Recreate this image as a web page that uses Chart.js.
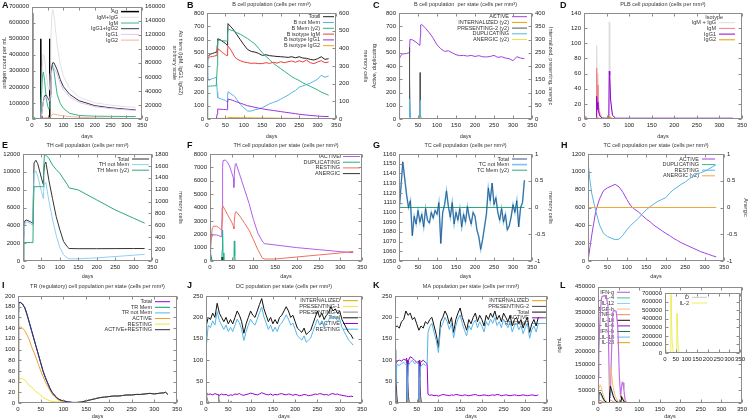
<!DOCTYPE html>
<html>
<head>
<meta charset="utf-8">
<script src="https://cdn.jsdelivr.net/npm/chart.js@4.4.1/dist/chart.umd.min.js"></script>
<style>
  html, body { margin: 0; padding: 0; background: #fff; }
  #wrap { position: relative; width: 750px; height: 420px; overflow: hidden; }
  #wrap canvas { position: absolute; }
  .lt { position: absolute; font: bold 9px "Liberation Sans", Arial, sans-serif; color: #111; }
</style>
</head>
<body>
<div id="wrap"></div>
<script>
// ---------- A: antigen and antibodies
const agDays = [0, 1, 3, 27, 28, 29, 31, 55, 56, 57, 59, 330];
const agCount = [660000, 40000, 0, 0, 500000, 20000, 0, 0, 500000, 20000, 0, 0];
const abDays = [0, 3, 6, 10, 20, 25, 28, 30, 33, 36, 40, 45, 50, 54, 56, 58, 60, 63, 66, 70, 80, 90, 100, 120, 150, 200, 250, 300, 330];
const abIgMG = [0, 4000, 3000, 1000, 300, 500, 3500, 35000, 75000, 92000, 88000, 64000, 48000, 41000, 44000, 65000, 110000, 147000, 156000, 148000, 105000, 78000, 61000, 43000, 31000, 23000, 19800, 17600, 16500];
const abIgM = [0, 4000, 3000, 1000, 300, 500, 3000, 30000, 60000, 67000, 55000, 30000, 18000, 14000, 16000, 30000, 55000, 72000, 76000, 68000, 35000, 22000, 15000, 8000, 5000, 4000, 3800, 3600, 3500];
const abIgG = [0, 0, 0, 0, 0, 0, 500, 5000, 15000, 25000, 33000, 34000, 30000, 27000, 28000, 35000, 55000, 75000, 80000, 80000, 70000, 56000, 46000, 35000, 26000, 19000, 16000, 14000, 13000];
const abIgG1 = [0, 0, 0, 0, 0, 0, 500, 4700, 14200, 23500, 31000, 31800, 28000, 25200, 26100, 32500, 51000, 69000, 73000, 73000, 64000, 51000, 41500, 31500, 23500, 17500, 14800, 13000, 12100];
const abIgG2 = [0, 0, 0, 0, 0, 0, 0, 300, 800, 1500, 2000, 2200, 2000, 1800, 1900, 2500, 4000, 6000, 7000, 7000, 6000, 5000, 4500, 3500, 2500, 1500, 1200, 1000, 900];

// ---------- B: B cell population
const bDays = [0, 2, 5, 10, 15, 20, 25, 27, 28, 29, 35, 40, 45, 50, 54, 55, 56, 57, 60, 65, 70, 75, 80, 90, 100, 110, 120, 130, 140, 150, 160, 170, 180, 190, 200, 210, 220, 230, 240, 250, 260, 270, 280, 290, 300, 310, 320, 330];
const bTotal = [450, 470, 480, 490, 495, 500, 505, 510, 560, 605, 600, 590, 580, 570, 560, 555, 640, 720, 710, 695, 680, 660, 640, 600, 560, 525, 510, 505, 495, 480, 485, 478, 475, 472, 470, 468, 465, 470, 462, 470, 460, 458, 450, 445, 455, 470, 450, 455];
const bNotMem = [460, 300, 290, 300, 305, 310, 315, 315, 200, 160, 155, 150, 145, 140, 130, 128, 180, 205, 200, 190, 180, 170, 150, 110, 85, 60, 60, 70, 75, 85, 100, 115, 125, 135, 150, 165, 180, 200, 215, 240, 250, 260, 270, 285, 300, 330, 315, 325];
const bMem = [0, 185, 186, 186, 187, 188, 188, 188, 300, 445, 445, 444, 443, 442, 441, 441, 480, 511, 508, 503, 500, 495, 490, 480, 468, 455, 440, 425, 400, 375, 355, 335, 315, 300, 285, 270, 255, 240, 228, 218, 205, 195, 185, 175, 165, 152, 143, 135];
const bIgM = [440, 455, 465, 470, 472, 475, 478, 480, 510, 530, 520, 505, 495, 485, 478, 478, 520, 550, 540, 520, 495, 470, 455, 440, 430, 425, 420, 422, 418, 418, 425, 420, 428, 422, 432, 425, 432, 438, 428, 440, 430, 445, 425, 418, 430, 440, 425, 430];
const bIgG1 = [0, 0, 0, 0, 0, 0, 0, 0, 40, 75, 74, 73, 72, 71, 70, 70, 120, 150, 148, 145, 140, 135, 130, 120, 110, 100, 95, 88, 82, 77, 72, 68, 64, 60, 56, 52, 48, 44, 40, 36, 33, 30, 27, 25, 22, 20, 19, 18];
const bIgG2 = [0, 0, 0, 0, 0, 0, 0, 0, 2, 5, 5, 5, 5, 5, 5, 5, 8, 12, 12, 12, 12, 11, 11, 10, 10, 9, 9, 8, 8, 8, 7, 7, 7, 6, 6, 6, 5, 5, 5, 5, 4, 4, 4, 4, 4, 3, 3, 3];

// ---------- C: B cells per state
const cDays = [0, 1, 2, 5, 10, 20, 27, 28, 29, 35, 45, 55, 56, 57, 60, 65, 70, 80, 90, 100, 110, 120, 130, 140, 150, 160, 170, 180, 190, 200, 210, 220, 230, 240, 250, 260, 270, 280, 290, 300, 310, 320, 330];
const cActive = [0, 300, 460, 480, 490, 495, 500, 550, 600, 598, 580, 555, 620, 710, 712, 700, 685, 650, 610, 560, 530, 510, 515, 500, 485, 478, 480, 475, 480, 472, 478, 470, 468, 472, 480, 465, 470, 460, 455, 440, 470, 460, 455];
const cSpikeDays = [0, 0.5, 1, 1.5, 2, 3, 27, 27.5, 28, 29, 30, 55, 55.5, 56, 57, 58, 330];
const cPres2 = [0, 385, 200, 40, 5, 0, 0, 270, 150, 20, 0, 0, 175, 80, 10, 0, 0];
const cDup = [0, 50, 100, 30, 5, 0, 0, 60, 150, 40, 0, 0, 60, 140, 40, 0, 0];
const cIntern = [0, 15, 8, 2, 0, 0, 0, 12, 8, 2, 0, 0, 10, 6, 1, 0, 0];
const cAnerg = [0, 8, 5, 1, 0, 0, 0, 6, 4, 1, 0, 0, 5, 3, 1, 0, 0];

// ---------- D: PLB cells
const dDays = [0, 2, 3, 5, 8, 27, 28, 29, 31, 35, 40, 55, 56, 57, 59, 63, 70, 330];
const dIgMG = [0, 3, 4, 2, 0, 0, 97, 60, 30, 10, 2, 1, 128, 60, 25, 5, 1, 1];
const dIgM = [0, 2, 4, 2, 0, 0, 67, 45, 20, 6, 1, 0, 3, 2, 1, 0, 0, 0];
const dIgG1 = [0, 1, 1, 1, 0, 0, 30, 22, 12, 4, 1, 1, 63, 58, 25, 5, 1, 1];
const dIgG2 = [0, 0, 0, 0, 0, 0, 2, 2, 1, 0, 0, 0, 4, 4, 2, 1, 0, 0];

// ---------- E: TH cells
const eDays = [0, 2, 5, 10, 20, 27, 28, 30, 35, 40, 50, 55, 56, 58, 62, 70, 80, 90, 100, 110, 120, 125, 150, 200, 250, 300, 330];
const eTotal = [0, 2500, 4500, 4600, 4400, 4200, 7000, 11000, 11300, 10900, 9300, 8600, 9600, 10800, 11100, 9100, 7000, 5000, 3500, 2200, 1600, 1400, 1380, 1380, 1390, 1400, 1400];
const eNotMem = [0, 2300, 4300, 4400, 4200, 4000, 6500, 9800, 10100, 9500, 7800, 7000, 7800, 8600, 8800, 6800, 4700, 2900, 1500, 700, 350, 250, 250, 350, 500, 650, 750];
const eMem = [0, 310, 310, 310, 310, 310, 800, 1250, 1250, 1250, 1250, 1250, 1500, 1790, 1780, 1730, 1615, 1540, 1475, 1380, 1290, 1230, 1195, 1028, 860, 720, 637];

// ---------- F: TH cells per state
const fDays = [0, 1, 2, 5, 8, 15, 20, 27, 28, 29, 30, 35, 40, 45, 50, 54, 55, 56, 58, 60, 70, 80, 90, 100, 110, 120, 125, 150, 200, 250, 300, 330];
const fActive = [0, 800, 1500, 1900, 1950, 1950, 1900, 1800, 4000, 7000, 7500, 7550, 7400, 7100, 6600, 6200, 5500, 6500, 7200, 7300, 6300, 5300, 4300, 3100, 2100, 1500, 1300, 1200, 1000, 850, 700, 620];
const fResting = [1500, 900, 1200, 2400, 2600, 2600, 2500, 2300, 3000, 4000, 4100, 3800, 3500, 3200, 2900, 2600, 2400, 3000, 3600, 3700, 3300, 2800, 2300, 1600, 850, 250, 150, 150, 300, 450, 600, 720];
const fDupDays = [0, 1, 2, 3, 5, 27, 28, 29, 30, 32, 55, 56, 57, 58, 60, 330];
const fDup = [0, 200, 500, 300, 0, 0, 800, 2300, 600, 0, 0, 1500, 400, 50, 0, 0];
const fAnergDays = [0, 1, 2, 4, 27, 28, 29, 31, 330];
const fAnerg = [0, 300, 100, 0, 0, 300, 50, 0, 0];

// ---------- G: TC cells
const gDays = [0, 5, 10, 15, 20, 25, 30, 35, 40, 45, 50, 55, 60, 65, 70, 75, 80, 85, 90, 95, 100, 105, 110, 115, 120, 125, 130, 135, 140, 145, 150, 155, 160, 165, 170, 175, 180, 185, 190, 195, 200, 205, 210, 215, 220, 225, 230, 235, 240, 245, 250, 255, 260, 265, 270, 275, 280, 285, 290, 295, 300, 305, 310, 315, 320, 325, 330];
const gTotal = [1100, 1125, 1152, 1135, 1118, 1105, 1112, 1076, 1096, 1088, 1102, 1090, 1098, 1085, 1104, 1092, 1089, 1100, 1094, 1102, 1098, 1110, 1068, 1100, 1108, 1122, 1106, 1095, 1110, 1088, 1100, 1092, 1104, 1085, 1098, 1090, 1106, 1095, 1088, 1100, 1096, 1082, 1075, 1062, 1072, 1085, 1098, 1125, 1112, 1130, 1108, 1115, 1100, 1092, 1104, 1090, 1098, 1082, 1086, 1095, 1108, 1100, 1112, 1085, 1105, 1110, 1133];
const flatDays = [0, 330];
const flatZero = [0, 0];

// ---------- H: TC cells per state
const hDays = [0, 5, 10, 20, 30, 40, 50, 60, 70, 80, 90, 100, 110, 120, 130, 140, 150, 160, 170, 180, 190, 200, 210, 220, 230, 240, 250, 260, 270, 280, 290, 300, 310, 320, 330];
const hActive = [0, 150, 300, 560, 700, 790, 820, 840, 860, 830, 770, 690, 620, 580, 550, 510, 470, 440, 400, 370, 340, 310, 285, 255, 230, 205, 185, 165, 145, 125, 105, 90, 75, 60, 45];
const hResting = [1120, 900, 750, 560, 400, 310, 275, 255, 240, 245, 290, 350, 400, 440, 480, 530, 575, 610, 640, 670, 690, 710, 760, 800, 830, 860, 885, 920, 950, 975, 990, 1005, 1030, 1055, 1080];

// ---------- I: TR cells
const iDays = [0, 1, 2, 3, 5, 10, 15, 20, 25, 30, 35, 40, 45, 50, 55, 60, 65, 70, 75, 80, 85, 90, 95, 100, 110, 120, 130, 140, 150, 160, 170, 180, 190, 200, 210, 220, 230, 240, 250, 260, 270, 280, 290, 300, 310, 320, 325, 330];
const iTotal = [170, 185, 188, 188, 188, 185, 178, 165, 150, 135, 120, 105, 90, 75, 60, 48, 38, 28, 20, 15, 10, 7, 5, 4, 2, 1, 1, 2, 4, 6, 8, 10, 11, 12, 13, 13, 14, 15, 15, 16, 16, 17, 18, 17, 18, 19, 20, 16];
const iActRest = [40, 150, 185, 188, 188, 185, 178, 165, 150, 135, 120, 105, 90, 75, 60, 48, 38, 28, 20, 15, 10, 7, 5, 4, 2, 1, 1, 2, 4, 6, 8, 10, 11, 12, 13, 13, 14, 15, 15, 16, 16, 17, 18, 17, 18, 19, 20, 16];
const iActive = [0, 100, 138, 142, 142, 140, 135, 127, 118, 105, 95, 84, 72, 60, 50, 40, 32, 24, 17, 12, 8, 5, 3, 2, 1, 0, 0, 0, 0, 0, 0, 0, 0, 0, 0, 0, 0, 0, 0, 0, 0, 0, 0, 0, 0, 0, 0, 0];
const iResting = [0, 40, 46, 46, 46, 45, 43, 38, 32, 30, 25, 21, 18, 15, 10, 8, 6, 4, 3, 3, 2, 2, 2, 2, 1, 1, 1, 2, 4, 6, 8, 10, 11, 12, 13, 13, 14, 15, 15, 16, 16, 17, 18, 17, 18, 19, 20, 16];

// ---------- J: DC per state
const jTotal = [178, 200, 195, 210, 200, 233, 210, 200, 190, 200, 185, 195, 185, 200, 215, 205, 190, 163, 185, 200, 215, 205, 200, 215, 230, 244, 220, 205, 190, 200, 185, 195, 185, 200, 205, 215, 225, 215, 200, 205, 190, 175, 170, 165, 175, 160, 165, 170, 185, 200, 215, 200, 210, 195, 205, 210, 225, 215, 220, 210, 215, 195, 185, 175, 165, 160, 150];
const jResting = [125, 182, 176, 192, 182, 214, 192, 182, 172, 182, 167, 177, 167, 182, 196, 187, 172, 146, 167, 182, 196, 187, 182, 196, 211, 224, 201, 187, 172, 182, 167, 177, 167, 182, 187, 196, 206, 196, 182, 187, 172, 157, 152, 147, 157, 142, 147, 152, 167, 182, 196, 182, 192, 177, 187, 192, 206, 196, 201, 192, 196, 177, 167, 157, 147, 142, 135];
const jActive = [22, 20, 21, 19, 22, 20, 18, 21, 19, 20, 17, 19, 18, 21, 20, 22, 19, 18, 20, 21, 23, 22, 20, 19, 21, 24, 22, 20, 19, 21, 18, 20, 19, 21, 22, 20, 19, 21, 20, 18, 20, 19, 17, 18, 20, 19, 17, 18, 19, 21, 20, 22, 21, 19, 20, 18, 21, 22, 20, 21, 19, 18, 17, 16, 15, 16, 15];
const jSpikeDays = [0, 1, 2, 4, 8, 27, 28, 29, 31, 35, 55, 56, 57, 60, 330];
const jPres2 = [0, 25, 15, 5, 0, 0, 20, 10, 3, 0, 0, 5, 3, 0, 0];
const jPres1 = [0, 3, 2, 1, 0, 0, 3, 2, 1, 0, 0, 2, 1, 0, 0];
const jIntern = [0, 4, 2, 1, 0, 0, 3, 1, 0, 0, 0, 2, 1, 0, 0];

// ---------- K: MA per state
const kTotal = [177, 180, 175, 190, 195, 215, 205, 210, 195, 200, 185, 170, 180, 175, 190, 185, 195, 200, 180, 160, 130, 190, 200, 215, 205, 185, 200, 165, 195, 210, 222, 200, 185, 170, 195, 185, 200, 210, 190, 205, 195, 180, 205, 195, 210, 200, 215, 195, 205, 190, 210, 200, 190, 205, 180, 195, 200, 185, 195, 175, 190, 200, 165, 185, 195, 180, 200];
const kStateDays = [0, 1, 2, 4, 5, 10, 15, 20, 25, 27, 28, 29, 31, 35, 40, 45, 50, 55, 56, 57, 59, 65, 70, 74, 76, 80, 85, 90, 95, 100, 105, 110, 115, 120, 125, 130, 135, 140, 145, 150, 155, 160, 165, 170, 175, 180, 185, 190, 195, 200, 205, 210, 215, 220, 225, 230, 235, 240, 245, 250, 255, 260, 265, 270, 275, 280, 285, 290, 295, 300, 305, 310, 315, 320, 325, 330];
const kResting = [120, 5, 40, 85, 90, 88, 92, 95, 90, 92, 5, 50, 88, 95, 100, 92, 95, 90, 5, 50, 85, 92, 88, 90, 165, 178, 186, 165, 146, 118, 175, 186, 200, 190, 172, 186, 152, 180, 196, 206, 186, 170, 157, 181, 171, 186, 194, 176, 190, 180, 166, 190, 181, 196, 186, 200, 181, 190, 176, 196, 186, 176, 190, 166, 181, 186, 171, 181, 162, 176, 186, 151, 171, 180, 166, 186];
const kActive = [0, 100, 95, 95, 98, 100, 98, 102, 100, 105, 10, 60, 100, 108, 105, 100, 95, 97, 10, 60, 95, 100, 95, 92, 20, 18, 19, 17, 18, 16, 18, 20, 19, 18, 17, 19, 18, 20, 19, 18, 17, 19, 18, 17, 18, 19, 20, 18, 17, 18, 19, 18, 17, 18, 19, 18, 20, 19, 17, 18, 19, 18, 17, 18, 19, 18, 17, 18, 19, 18, 17, 18, 19, 18, 17, 19];
const kSpikeDays = [0, 1, 2, 4, 6, 27, 28, 29, 31, 33, 55, 56, 57, 59, 61, 330];
const kPres2 = [0, 125, 80, 20, 0, 0, 100, 60, 15, 0, 0, 100, 60, 15, 0, 0];
const kIntern = [0, 20, 8, 2, 0, 0, 15, 5, 1, 0, 0, 12, 4, 1, 0, 0];

// ---------- L: cytokines
const lDays = [0, 2, 5, 8, 10, 15, 20, 24, 26, 28, 30, 32, 36, 40, 44, 48, 52, 55, 57, 59, 61, 63, 66, 70, 80, 330];
const lIFNg = [100000, 200000, 330000, 400000, 412000, 415000, 410000, 380000, 200000, 40000, 20000, 150000, 350000, 358000, 355000, 300000, 100000, 20000, 60000, 80000, 78000, 50000, 10000, 1000, 0, 0];
const cytDays = [0, 2, 5, 8, 12, 16, 22, 27, 28, 30, 33, 37, 42, 50, 55, 56, 57, 60, 64, 70, 330];
const lTGFb = [20000, 55000, 70000, 60000, 35000, 15000, 2000, 500, 40000, 145000, 110000, 60000, 25000, 3000, 500, 15000, 30000, 20000, 5000, 500, 0];
const lIL10 = [10000, 35000, 42000, 35000, 20000, 8000, 1000, 200, 25000, 65000, 50000, 28000, 10000, 1000, 200, 12000, 25000, 15000, 4000, 300, 0];
const lIL12 = [8000, 28000, 35000, 28000, 15000, 6000, 800, 100, 20000, 55000, 42000, 22000, 8000, 800, 100, 10000, 20000, 12000, 3000, 200, 0];
const lTNFa = [2000, 8000, 10000, 8000, 4000, 1500, 200, 0, 5000, 12000, 9000, 5000, 2000, 200, 0, 3000, 5000, 3000, 800, 0, 0];
const il2Days = [0, 2, 4, 8, 12, 27, 28, 30, 33, 38, 55, 56, 58, 62, 66, 330];
const lIL2 = [210000, 150000, 60000, 5000, 0, 0, 680000, 400000, 150000, 10000, 0, 460000, 250000, 60000, 2000, 0];

const FONT = '"Liberation Sans", Arial, sans-serif';
const wrap = document.getElementById('wrap');
const MM = 'mm\u00b3';

function pts(xs, ys) { return xs.map((x, i) => ({ x, y: ys[i] })); }
function line(label, xs, ys, color, extra) {
    return Object.assign({
        label, data: pts(xs, ys), borderColor: color, backgroundColor: color,
        borderWidth: 1, pointRadius: 0, fill: false, tension: 0, yAxisID: 'y'
    }, extra || {});
}

// gnuplot-like frame, inward ticks, title and key
const frame = {
    id: 'frame',
    beforeDatasetsDraw(chart, args, o) {
        const { ctx, chartArea: a } = chart;
        if (o.bg) {
            ctx.save();
            ctx.fillStyle = '#fff';
            ctx.fillRect(a.left, a.top, a.right - a.left, a.bottom - a.top);
            ctx.restore();
        }
        if (!o.leg) return;
        const L = o.leg;
        const x1 = L.left != null ? a.left + L.left : a.right - L.right;
        const x0 = x1 - L.len;
        let y = a.top + L.top;
        ctx.save();
        ctx.font = '5.5px ' + FONT;
        ctx.textAlign = 'right';
        ctx.textBaseline = 'middle';
        if (L.header) {
            ctx.fillStyle = '#333';
            ctx.fillText(L.header, x0 + 4, y);
            y += L.row;
        }
        chart.data.datasets.forEach(d => {
            if (d.noLeg) return;
            ctx.fillStyle = '#333';
            ctx.fillText(d.label, x0 - 3, y);
            ctx.strokeStyle = d.borderColor;
            ctx.lineWidth = Math.max(1, d.borderWidth);
            ctx.beginPath();
            ctx.moveTo(x0, y);
            ctx.lineTo(x1, y);
            ctx.stroke();
            y += L.row;
        });
        ctx.restore();
    },
    afterDraw(chart, args, o) {
        const { ctx, chartArea: a, scales } = chart;
        const l = Math.round(a.left) + 0.5, r = Math.round(a.right) - 0.5;
        const t = Math.round(a.top) + 0.5, b = Math.round(a.bottom) - 0.5;
        ctx.save();
        ctx.strokeStyle = '#8c8c8c';
        ctx.lineWidth = 1;
        ctx.strokeRect(l, t, r - l, b - t);
        ctx.beginPath();
        scales.x.ticks.forEach(tk => {
            const p = Math.round(scales.x.getPixelForValue(tk.value)) + 0.5;
            ctx.moveTo(p, b); ctx.lineTo(p, b - 3);
            ctx.moveTo(p, t); ctx.lineTo(p, t + 3);
        });
        scales.y.ticks.forEach(tk => {
            const p = Math.round(scales.y.getPixelForValue(tk.value)) + 0.5;
            ctx.moveTo(l, p); ctx.lineTo(l + 3, p);
            if (!scales.y2) { ctx.moveTo(r, p); ctx.lineTo(r - 3, p); }
        });
        if (scales.y2) {
            scales.y2.ticks.forEach(tk => {
                const p = Math.round(scales.y2.getPixelForValue(tk.value)) + 0.5;
                ctx.moveTo(r, p); ctx.lineTo(r - 3, p);
            });
        }
        ctx.stroke();
        if (o.title) {
            ctx.fillStyle = '#333';
            ctx.font = '5.5px ' + FONT;
            ctx.textAlign = 'center';
            ctx.textBaseline = 'middle';
            ctx.fillText(o.title, (a.left + a.right) / 2, a.top + o.titleY);
        }
        ctx.restore();
    }
};

const tickFont = { family: FONT, size: 6 };
const titleFont = { family: FONT, size: 5.5 };

function yAxis(pos, spec, width) {
    const [min, max, step, title] = spec;
    return {
        type: 'linear', position: pos, min, max,
        ticks: { stepSize: step, font: tickFont, color: '#222', padding: 3, autoSkip: false, callback: v => String(v) },
        grid: { display: false, drawTicks: false },
        border: { display: false },
        title: title ? { display: true, text: title, font: titleFont, color: '#333', padding: 1 } : { display: false },
        afterFit: s => { s.width = width; }
    };
}

function panel(s) {
    const [bx, by, bw, bh] = s.box;
    const [pl, pt, pr, pb] = s.plot;
    const cv = document.createElement('canvas');
    cv.width = bw; cv.height = bh;
    cv.style.left = bx + 'px'; cv.style.top = by + 'px';
    wrap.appendChild(cv);
    s.sets.forEach((d, i) => { if (d.order === undefined) d.order = -i; });
    const scales = {
        x: {
            type: 'linear', min: 0, max: 350,
            ticks: { stepSize: 50, font: tickFont, color: '#222', padding: 3, maxRotation: 0, autoSkip: false, callback: v => String(v) },
            grid: { display: false, drawTicks: false },
            border: { display: false },
            title: s.noDays ? { display: false } : { display: true, text: 'days', font: titleFont, color: '#333', padding: 0 },
            afterFit: sc => { sc.height = by + bh - pb; }
        },
        y: yAxis('left', s.y, pl - bx)
    };
    if (s.y2) scales.y2 = yAxis('right', s.y2, bx + bw - pr);
    new Chart(cv, {
        type: 'line',
        data: { datasets: s.sets },
        options: {
            responsive: false, animation: false, events: [],
            layout: { padding: { left: 0, bottom: 0, top: pt - by, right: s.y2 ? 0 : bx + bw - pr } },
            scales,
            plugins: {
                legend: { display: false }, tooltip: { enabled: false },
                frame: { title: s.title, titleY: s.titleY || -8.5, leg: s.leg, bg: s.bg }
            }
        },
        plugins: [frame]
    });
}

const Y2 = { yAxisID: 'y2' };

panel({
    box: [0, 0, 185, 140], plot: [32, 2, 142, 119],
    y: [0, 700000, 100000, 'antigen count per mL'],
    y2: [0, 160000, 20000, ['Ab titers (IgM, IgG1, IgG2)', 'arbitrary scale']],
    leg: { right: 3, len: 18, top: 5, row: 5.7 },
    sets: [
        line('Ag', agDays, agCount, '#000000', { borderWidth: 1.5 }),
        line('IgM+IgG', abDays, abIgMG, '#e2e2e2', Y2),
        line('IgM', abDays, abIgM, '#3cb489', Y2),
        line('IgG1+IgG2', abDays, abIgG, '#3a3550', Y2),
        line('IgG1', abDays, abIgG1, '#e8c4ec', Y2),
        line('IgG2', abDays, abIgG2, '#f6b49a', Y2)
    ]
});

panel({
    box: [185, 0, 185, 140], plot: [207, 13, 336, 119],
    title: 'B cell population (cells per ' + MM + ')',
    y: [0, 800, 100], y2: [0, 600, 100, 'memory cells'],
    leg: { right: 2, len: 11, top: 3.7, row: 5.8 },
    sets: [
        line('Total', bDays, bTotal, '#222222'),
        line('B not Mem', bDays, bNotMem, '#56b4e9'),
        line('B Mem (y2)', bDays, bMem, '#2fb283', Y2),
        line('B isotype IgM', bDays, bIgM, '#e8403a'),
        line('B isotype IgG1', bDays, bIgG1, '#9b30d9'),
        line('B isotype IgG2', bDays, bIgG2, '#e6a817')
    ]
});

panel({
    box: [370, 0, 185, 140], plot: [399, 13, 532, 119],
    title: 'B cell population  per state (cells per ' + MM + ')',
    y: [0, 800, 100, 'Active, duplicating'], y2: [0, 400, 50, 'Internalized, presenting, anergic'],
    leg: { right: 5, len: 15, top: 3.7, row: 5.7 },
    sets: [
        line('ACTIVE', cDays, cActive, '#a040e0'),
        line('INTERNALIZED (y2)', cSpikeDays, cIntern, '#e69f00', Y2),
        line('PRESENTING-2 (y2)', cSpikeDays, cPres2, '#555555', Y2),
        line('DUPLICATING', cSpikeDays, cDup, '#56b4e9'),
        line('ANERGIC (y2)', cSpikeDays, cAnerg, '#f0e442', Y2)
    ]
});

panel({
    box: [555, 0, 195, 140], plot: [584, 13, 745, 119],
    title: 'PLB cell population (cells per ' + MM + ')',
    y: [0, 140, 20],
    leg: { right: 7, len: 16, top: 4, row: 5.7, header: 'Isotype' },
    sets: [
        line('IgM + IgG', dDays, dIgMG, '#dcdcdc'),
        line('IgM', dDays, dIgM, '#f08080'),
        line('IgG1', dDays, dIgG1, '#9400d3'),
        line('IgG2', dDays, dIgG2, '#e69f00')
    ]
});

panel({
    box: [0, 140, 185, 140], plot: [23, 154, 152, 261],
    title: 'TH cell population (cells per ' + MM + ')',
    y: [0, 12000, 2000], y2: [0, 1800, 200, 'memory cells'],
    leg: { right: 3, len: 17, top: 5, row: 5.6 },
    sets: [
        line('Total', eDays, eTotal, '#333333'),
        line('TH not Mem', eDays, eNotMem, '#8fd0f0'),
        line('TH Mem (y2)', eDays, eMem, '#2ca87a', Y2)
    ]
});

panel({
    box: [185, 140, 185, 140], plot: [210, 154, 364, 261],
    title: 'TH cell population per state (cells per ' + MM + ')',
    y: [0, 8000, 1000],
    leg: { right: 2, len: 17, top: 2.5, row: 5.7 },
    sets: [
        line('ACTIVE', fDays, fActive, '#b060e8'),
        line('DUPLICATING', fDupDays, fDup, '#20b090'),
        line('RESTING', fDays, fResting, '#f07060'),
        line('ANERGIC', fAnergDays, fAnerg, '#333333')
    ]
});

panel({
    box: [370, 140, 185, 140], plot: [399, 154, 532, 261],
    title: 'TC cell population (cells per ' + MM + ')',
    y: [1050, 1160, 10], y2: [-1, 1, 0.5, 'memory cells'],
    leg: { right: 5, len: 15, top: 5, row: 5.6 },
    sets: [
        line('Total', gDays, gTotal, 'rgba(25,60,110,0.85)', { borderWidth: 0.8, order: -10 }),
        line('TC not Mem', gDays, gTotal, '#7cc4ec', { borderWidth: 1.6 }),
        line('TC Mem (y2)', flatDays, flatZero, '#2ca87a', Y2)
    ]
});

panel({
    box: [555, 140, 195, 140], plot: [588, 154, 724, 261],
    title: 'TC cell population per state (cells per ' + MM + ')',
    y: [0, 1200, 200], y2: [-1, 1, 0.5, 'Anergic'],
    leg: { right: 9, len: 13, top: 5, row: 5.6 },
    sets: [
        line('ACTIVE', hDays, hActive, '#a040e0'),
        line('DUPLICATING', flatDays, flatZero, '#3cb489'),
        line('RESTING', hDays, hResting, '#56b4e9'),
        line('ANERGIC (y2)', flatDays, flatZero, '#f2a93b', Y2)
    ]
});

panel({
    box: [0, 280, 185, 140], plot: [18, 296, 177, 403],
    title: 'TR (regulatory) cell population per state (cells per ' + MM + ')', titleY: -9.5,
    y: [0, 200, 20],
    leg: { right: 7, len: 15, top: 5.7, row: 5.6 },
    sets: [
        line('Total', iDays, iTotal, '#9400d3'),
        line('TR Mem', flatDays, flatZero, '#009e73'),
        line('TR not Mem', iDays, iTotal, '#56b4e9'),
        line('ACTIVE', iDays, iActive, '#f0a030'),
        line('RESTING', iDays, iResting, '#f0e442'),
        line('ACTIVE+RESTING', iDays, iActRest, '#2a2a4a')
    ]
});

panel({
    box: [185, 280, 185, 140], plot: [206, 296, 364, 403],
    title: 'DC population per state (cells per ' + MM + ')', titleY: -9.5,
    y: [0, 250, 50],
    leg: { right: 4, len: 15, top: 4.7, row: 5.7 },
    sets: [
        line('INTERNALIZED', jSpikeDays, jIntern, '#e69f00'),
        line('PRESENTING-1', jSpikeDays, jPres1, '#f0e442'),
        line('PRESENTING-2', jSpikeDays, jPres2, '#888888'),
        line('Total', gDays, jTotal, '#111111'),
        line('ACTIVE', gDays, jActive, '#9400d3'),
        line('RESTING', gDays, jResting, '#56b4e9')
    ]
});

panel({
    box: [370, 280, 185, 140], plot: [395, 296, 547, 403],
    title: 'MA population per state (cells per ' + MM + ')', titleY: -9.5,
    y: [0, 250, 50],
    leg: { right: 1, len: 14, top: 4.7, row: 5.7 },
    sets: [
        line('INTERNALIZED', kSpikeDays, kIntern, '#e69f00'),
        line('PRESENTING-2', kSpikeDays, kPres2, '#444444'),
        line('Total', gDays, kTotal, '#111111'),
        line('ACTIVE', kStateDays, kActive, '#9400d3'),
        line('RESTING', kStateDays, kResting, '#56b4e9')
    ]
});

panel({
    box: [555, 280, 195, 140], plot: [598, 285, 743, 403],
    y: [0, 450000, 50000, 'ng/mL'],
    leg: { left: 32, len: 13, top: 5.7, row: 5.6 },
    sets: [
        line('IFN-g', lDays, lIFNg, '#c070e0', { borderWidth: 1.2 }),
        line('IL-4', flatDays, flatZero, '#40c0a0'),
        line('IL-12', cytDays, lIL12, '#90d0f0'),
        line('TGF-b', cytDays, lTGFb, '#f0c070'),
        line('TNF-a', cytDays, lTNFa, '#f08070'),
        line('IL-10', cytDays, lIL10, '#111111'),
        line('IL-6', flatDays, flatZero, '#9400d3'),
        line('IFN-b', flatDays, flatZero, '#008060'),
        line('IL-18', flatDays, flatZero, '#70b8e0'),
        line('IL-23', flatDays, flatZero, '#e69f00')
    ]
});

panel({
    box: [630, 286, 120, 80], plot: [665, 293, 740, 353], noDays: true, bg: true,
    y: [0, 700000, 100000],
    leg: { left: 42, len: 15, top: 4.3, row: 5.7 },
    sets: [
        line('D', flatDays, flatZero, '#cccccc'),
        line('IL-2', il2Days, lIL2, '#eeee60')
    ]
});

// panel letters
[['A', 2, 0], ['B', 187, 0], ['C', 373, 0], ['D', 560, 0],
 ['E', 2, 140], ['F', 187, 140], ['G', 373, 140], ['H', 561, 140],
 ['I', 2, 280], ['J', 187, 280], ['K', 373, 280], ['L', 560, 280]].forEach(([t, x, y]) => {
    const d = document.createElement('div');
    d.className = 'lt';
    d.textContent = t;
    d.style.left = x + 'px';
    d.style.top = y + 'px';
    wrap.appendChild(d);
});
</script>
</body>
</html>
